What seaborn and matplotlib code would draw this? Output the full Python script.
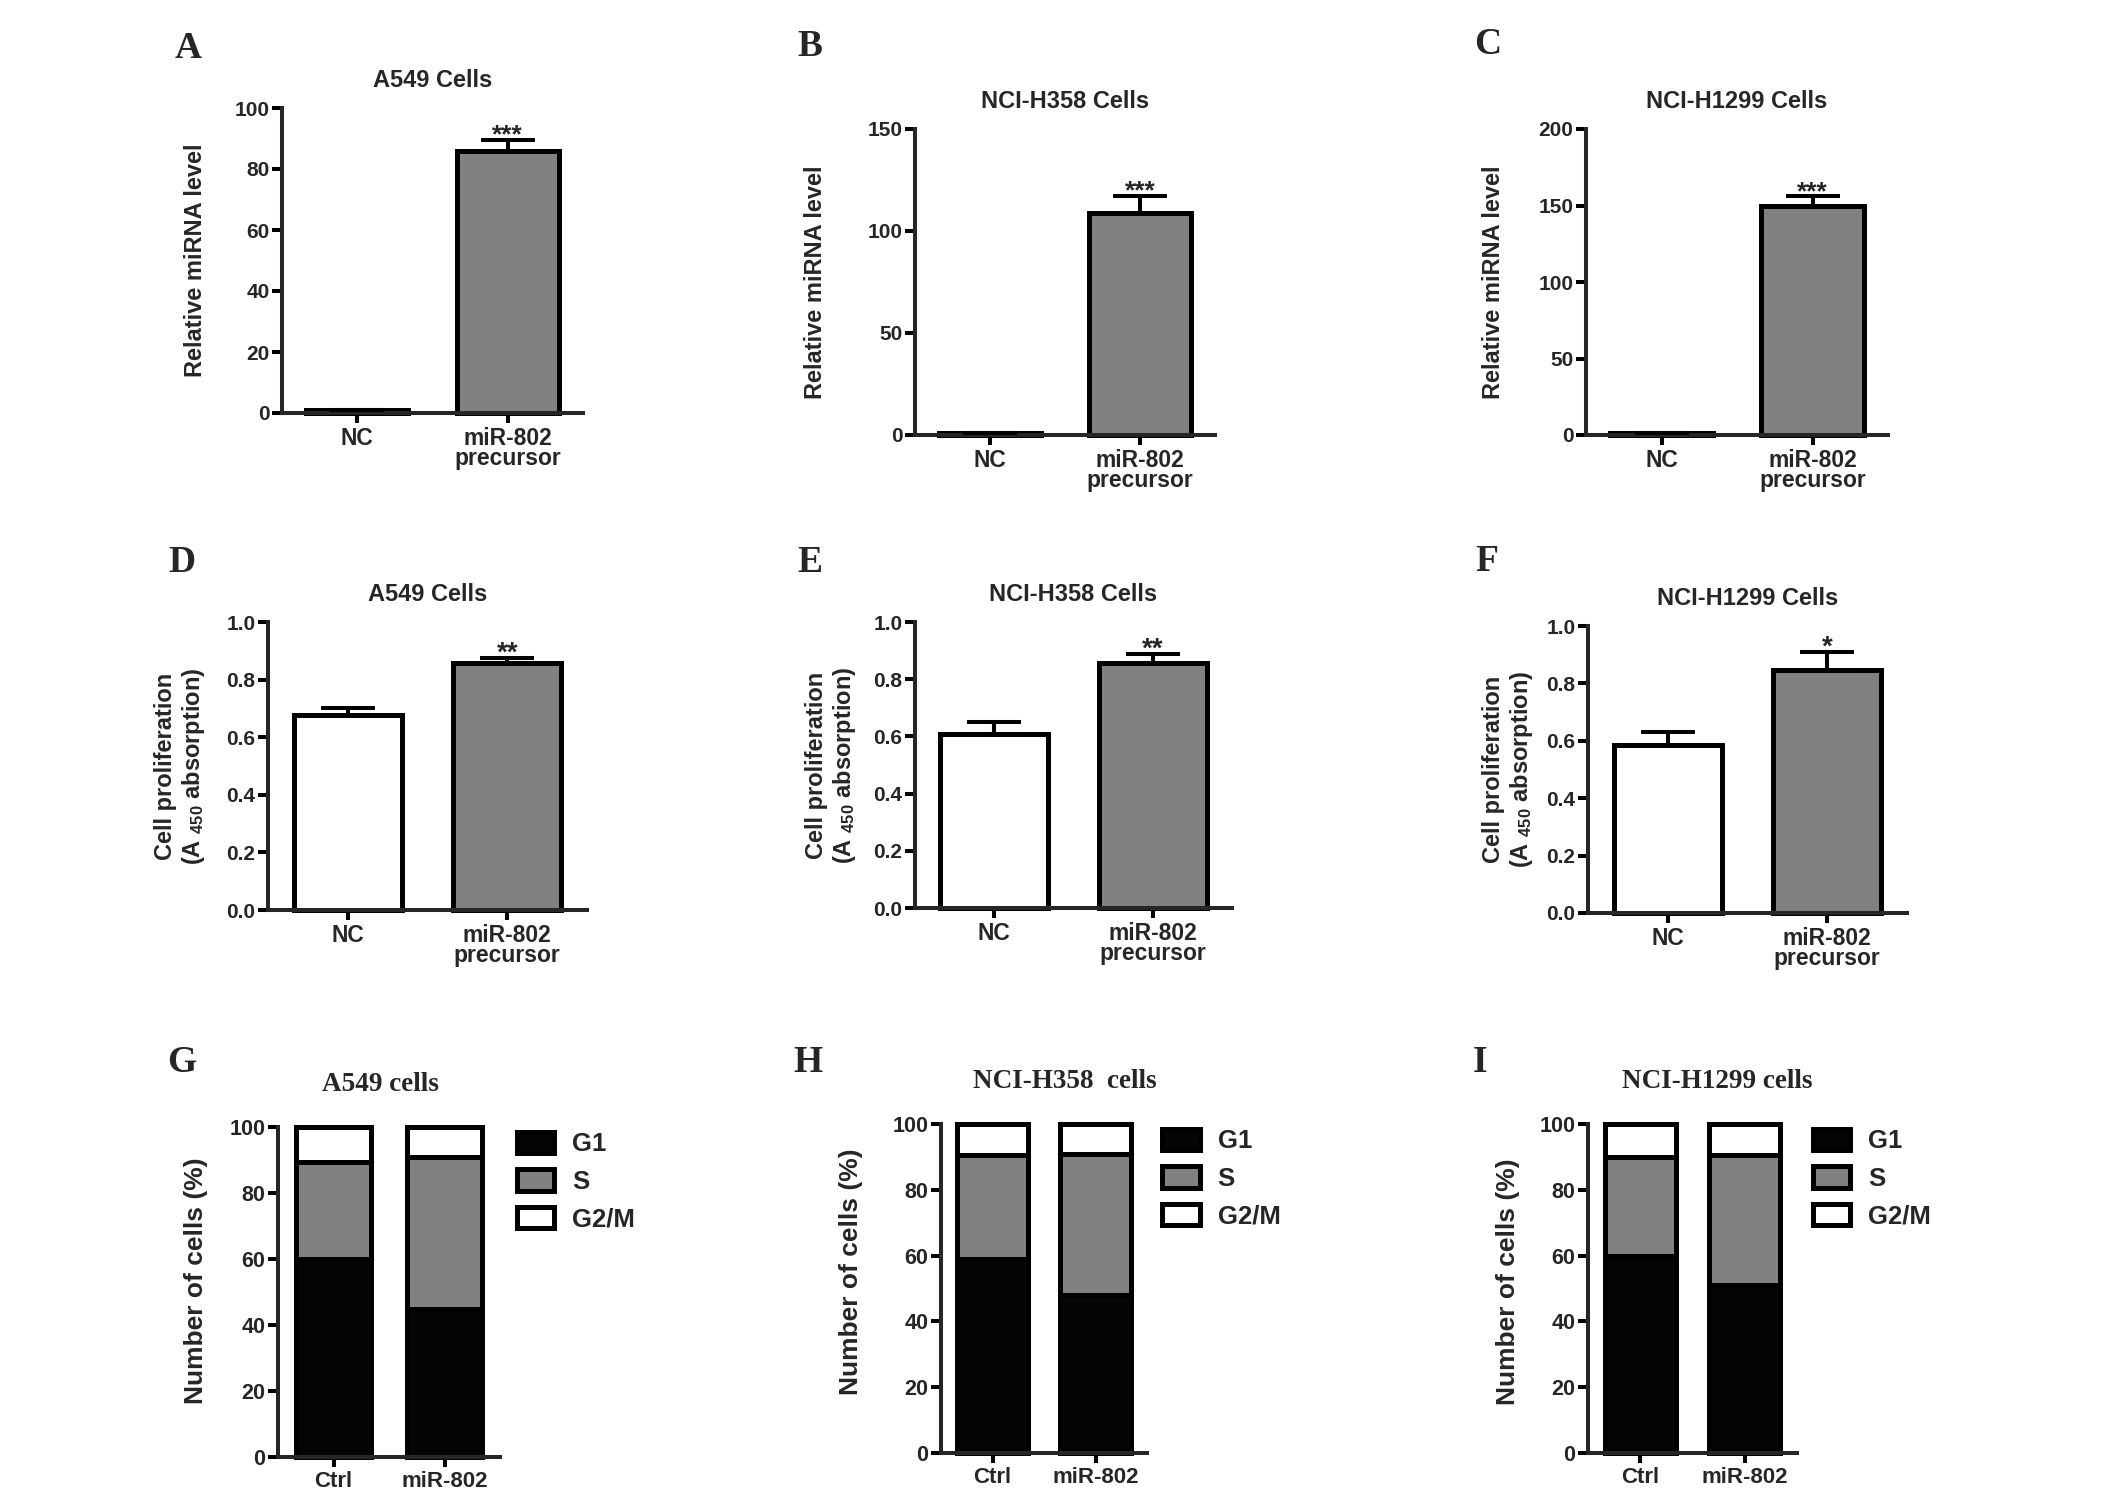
import numpy as np
import seaborn as sns
import matplotlib.pyplot as plt
from matplotlib.patches import Patch

# ---- data ----
prec_groups = ["NC", "miR-802\nprecursor"]
cycle_groups = ["Ctrl", "miR-802"]

mirna_a549 = [1.0, 86.0]
mirna_a549_err = [0.0, 3.6]
mirna_h358 = [1.0, 109.0]
mirna_h358_err = [0.0, 8.3]
mirna_h1299 = [1.0, 149.5]
mirna_h1299_err = [0.0, 6.5]

prolif_a549 = [0.676, 0.859]
prolif_a549_err = [0.026, 0.017]
prolif_h358 = [0.610, 0.858]
prolif_h358_err = [0.041, 0.029]
prolif_h1299 = [0.585, 0.846]
prolif_h1299_err = [0.044, 0.064]

g1_a549 = [60.0, 45.0]
s_a549 = [29.5, 46.0]
g2m_a549 = [10.5, 9.0]
g1_h358 = [59.0, 48.0]
s_h358 = [31.5, 43.0]
g2m_h358 = [9.5, 9.0]
g1_h1299 = [60.0, 51.0]
s_h1299 = [30.0, 39.5]
g2m_h1299 = [10.0, 9.5]

stars_mirna = ["", "***"]
stars_prolif_a549 = ["", "**"]
stars_prolif_h358 = ["", "**"]
stars_prolif_h1299 = ["", "*"]

phases = ["G1", "S", "G2/M"]

sns.set_style("ticks")
plt.rcParams["font.family"] = ["Liberation Sans", "DejaVu Sans"]
plt.rcParams["font.weight"] = "bold"
plt.rcParams["mathtext.fontset"] = "custom"
plt.rcParams["mathtext.rm"] = "Liberation Sans:bold"
plt.rcParams["mathtext.it"] = "Liberation Sans:bold"
plt.rcParams["mathtext.bf"] = "Liberation Sans:bold"

GRAY = "#818181"
SPINE = 2.9
EDGE = 3.6
BARW = 0.68
SERIF = ["Liberation Serif", "DejaVu Serif"]

fig = plt.figure(figsize=(21.26, 15.05), dpi=100)
W, H = 2126, 1505


def add_axes(left, top, right, bottom):
    return fig.add_axes([left / W, 1 - bottom / H, (right - left) / W, (bottom - top) / H])


def style(ax, ymax, yticks, ytick_fmt):
    ax.set_xlim(-0.5, 1.5)
    ax.set_ylim(0, ymax)
    ax.set_yticks(yticks)
    ax.set_yticklabels([ytick_fmt.format(t) for t in yticks])
    sns.despine(ax=ax)
    ax.spines["left"].set_linewidth(SPINE)
    ax.spines["bottom"].set_linewidth(SPINE)
    ax.tick_params(axis="both", width=SPINE, length=7, color="black")
    ax.tick_params(axis="y", labelsize=15, pad=2)
    ax.tick_params(axis="x", labelsize=16.5, pad=3)
    ax.set_xlabel("")
    for p in ax.patches:
        p.set_clip_on(False)


def simple_bars(ax, values, errs, stars, colors, title, ymax, yticks, fmt, ylabel, lab_x, star_fs):
    sns.barplot(x=prec_groups, y=values, hue=prec_groups, palette=colors, legend=False,
                width=BARW, edgecolor="black", linewidth=EDGE, saturation=1,
                errorbar=None, ax=ax)
    ax.errorbar(x=[0, 1], y=values, yerr=[[0, 0], errs], fmt="none", ecolor="black",
                elinewidth=SPINE, capsize=19.5, capthick=SPINE, zorder=3)
    for i, (v, e, s) in enumerate(zip(values, errs, stars)):
        if s:
            ax.annotate(s, (i, v + e), xytext=(0, -2), textcoords="offset points",
                        ha="center", va="baseline", fontsize=star_fs, fontweight="bold")
    style(ax, ymax, yticks, fmt)
    for lbl in ax.get_xticklabels():
        lbl.set_linespacing(0.85)
    ax.set_title(title, fontsize=17, fontweight="bold", pad=15)
    ax.set_ylabel(ylabel, fontsize=17, fontweight="bold", linespacing=1.15)
    ax.yaxis.set_label_coords(lab_x, 0.5)


def stacked_bars(ax, g1, s, g2m, title, title_dx, lab_x, lab_y):
    total = [a + b + c for a, b, c in zip(g1, s, g2m)]
    g1s = [a + b for a, b in zip(g1, s)]
    for vals, col in [(total, "white"), (g1s, GRAY), (g1, "#050505")]:
        sns.barplot(x=cycle_groups, y=vals, color=col, width=BARW, edgecolor="black",
                    linewidth=EDGE, saturation=1, errorbar=None, ax=ax)
    style(ax, 100, [0, 20, 40, 60, 80, 100], "{:d}")
    ax.tick_params(axis="y", labelsize=15.5)
    ax.tick_params(axis="x", labelsize=16)
    ax.set_title(title, fontsize=19.5, fontweight="bold", family=SERIF, pad=26,
                 x=0.5 + title_dx)
    ax.set_ylabel("Number of cells (%)", fontsize=19, fontweight="bold")
    ax.yaxis.set_label_coords(lab_x, lab_y)
    handles = [Patch(facecolor=c, edgecolor="black", linewidth=EDGE, label=l)
               for c, l in zip(["#050505", GRAY, "white"], phases)]
    ax.legend(handles=handles, loc="upper left", bbox_to_anchor=(1.075, 0.985),
              frameon=False, prop={"weight": "bold", "size": 18.5}, handlelength=1.45,
              handleheight=0.9, handletextpad=0.7, borderpad=0, borderaxespad=0,
              labelspacing=0.5)


# row 1: relative miRNA level
axA = add_axes(282, 108, 583, 413)
simple_bars(axA, mirna_a549, mirna_a549_err, stars_mirna, ["white", GRAY], "A549 Cells",
            100, [0, 20, 40, 60, 80, 100], "{:d}", "Relative miRNA level", -0.249, 19)
axB = add_axes(915, 129, 1215, 435)
simple_bars(axB, mirna_h358, mirna_h358_err, stars_mirna, ["white", GRAY], "NCI-H358 Cells",
            150, [0, 50, 100, 150], "{:d}", "Relative miRNA level", -0.293, 19)
axC = add_axes(1586, 129, 1888, 435)
simple_bars(axC, mirna_h1299, mirna_h1299_err, stars_mirna, ["white", GRAY], "NCI-H1299 Cells",
            200, [0, 50, 100, 150, 200], "{:d}", "Relative miRNA level", -0.268, 19)

# row 2: proliferation
prolif_label = "Cell proliferation\n(A $_{450}$ absorption)"
prolif_ticks = [0.0, 0.2, 0.4, 0.6, 0.8, 1.0]
axD = add_axes(268, 622, 587, 910)
simple_bars(axD, prolif_a549, prolif_a549_err, stars_prolif_a549, ["white", GRAY], "A549 Cells",
            1.0, prolif_ticks, "{:.1f}", prolif_label, -0.19, 20)
axE = add_axes(915, 622, 1232, 908)
simple_bars(axE, prolif_h358, prolif_h358_err, stars_prolif_h358, ["white", GRAY], "NCI-H358 Cells",
            1.0, prolif_ticks, "{:.1f}", prolif_label, -0.18, 20)
axF = add_axes(1588, 626, 1907, 913)
simple_bars(axF, prolif_h1299, prolif_h1299_err, stars_prolif_h1299, ["white", GRAY], "NCI-H1299 Cells",
            1.0, prolif_ticks, "{:.1f}", prolif_label, -0.166, 20)

# row 3: cell cycle
axG = add_axes(278, 1127, 500, 1457)
stacked_bars(axG, g1_a549, s_a549, g2m_a549, "A549 cells", -0.04, -0.315, 0.533)
axH = add_axes(941, 1124, 1147, 1453)
stacked_bars(axH, g1_h358, s_h358, g2m_h358, "NCI-H358  cells", 0.10, -0.379, 0.55)
axI = add_axes(1588, 1124, 1797, 1453)
stacked_bars(axI, g1_h1299, s_h1299, g2m_h1299, "NCI-H1299 cells", 0.12, -0.325, 0.52)

# panel letters
letters = ["A", "B", "C", "D", "E", "F", "G", "H", "I"]
letter_x = [188, 810, 1488, 182, 810, 1487, 182, 808, 1480]
letter_y = [48, 47, 45, 563, 563, 562, 1062, 1062, 1062]
for t, x, y in zip(letters, letter_x, letter_y):
    fig.text(x / W, 1 - y / H, t, ha="center", va="center", fontsize=27,
             fontweight="bold", family=SERIF)

fig.savefig("out.png", dpi=100)
